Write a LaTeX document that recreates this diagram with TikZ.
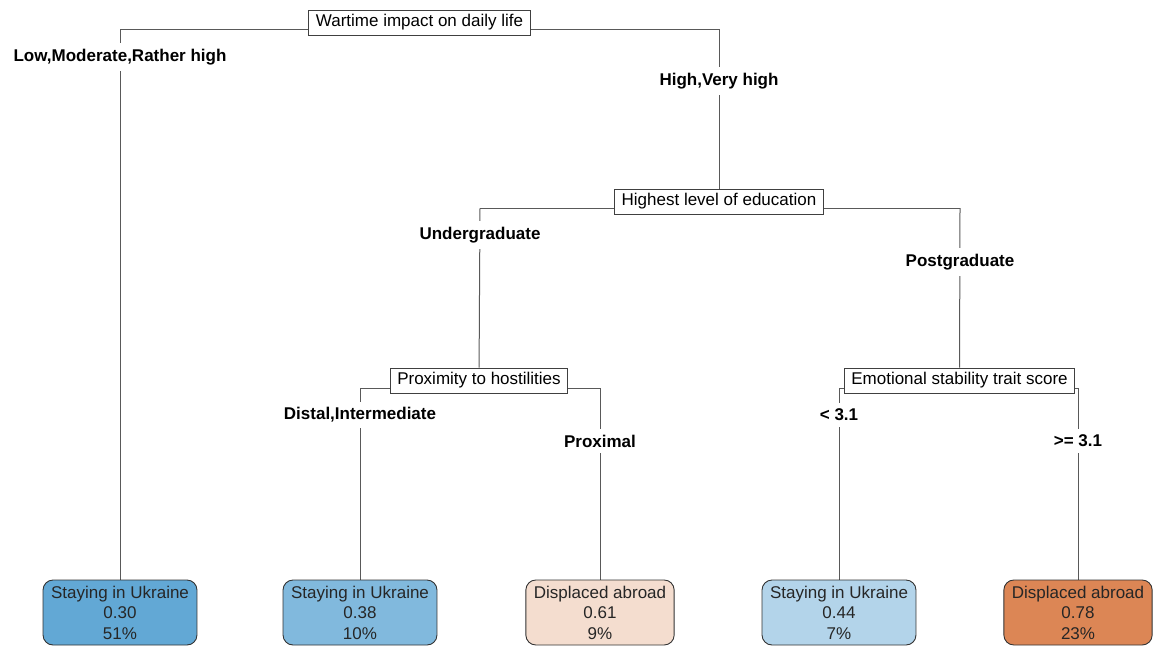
\documentclass[tikz,border=0pt]{standalone}
\usepackage{fontspec}
\setmainfont{Liberation Sans}
\usepackage{xcolor}
\usepackage{tikz}
\usetikzlibrary{backgrounds}

\definecolor{stayA}{HTML}{62A8D5}
\definecolor{stayB}{HTML}{81B9DD}
\definecolor{stayC}{HTML}{B3D4EA}
\definecolor{awayA}{HTML}{F4DDCF}
\definecolor{awayB}{HTML}{DC8655}

\tikzset{
	split/.style={draw=black!75, fill=white, line width=0.9pt, inner sep=0pt, inner xsep=7pt,
		minimum height=25pt, font=\fontsize{17}{20}\selectfont},
	cut/.style={fill=white, inner xsep=1pt, inner ysep=6pt, font=\bfseries\fontsize{17}{20}\selectfont},
	leaf/.style={draw=black!80, rounded corners=10pt, line width=0.9pt, align=center, inner xsep=8pt,
		inner ysep=0pt, minimum height=65pt, font=\fontsize{17}{20.5}\selectfont, text=black!85},
	branch/.style={draw=black!65, line width=1pt}
}

\begin{document}
\begin{tikzpicture}[x=1pt,y=-1pt]
	\useasboundingbox (0,0) rectangle (1153,646);
	\node[split] (root) at(419.5,22.5){Wartime impact on daily life};
	\node[split] (edu) at(719,201.5){Highest level of education};
	\node[split] (prox) at(479,380.5){Proximity to hostilities};
	\node[split] (emo) at(959.5,380.5){Emotional stability trait score};
	\coordinate (root-l) at(120,29);
	\coordinate (root-r) at(719,29);
	\coordinate (edu-l) at(480,208);
	\coordinate (edu-r) at(960,208);
	\coordinate (prox-l) at(360,388);
	\coordinate (prox-r) at(600,388);
	\coordinate (emo-l) at(839,388);
	\coordinate (emo-r) at(1078,388);
	\node[leaf, fill=stayA] (leaf1) at(120,612.5){Staying in Ukraine\\0.30\\51\%};
	\node[leaf, fill=stayB] (leaf2) at(360,612.5){Staying in Ukraine\\0.38\\10\%};
	\node[leaf, fill=awayA] (leaf3) at(600,612.5){Displaced abroad\\0.61\\9\%};
	\node[leaf, fill=stayC] (leaf4) at(839,612.5){Staying in Ukraine\\0.44\\7\%};
	\node[leaf, fill=awayB] (leaf5) at(1078,612.5){Displaced abroad\\0.78\\23\%};
	\node[cut] (low) at(120,57){Low,Moderate,Rather high};
	\node[cut] (high) at(719,81){High,Very high};
	\node[cut] (under) at(480,235){Undergraduate};
	\node[cut] (post) at(960,262){Postgraduate};
	\node[cut] (distal) at(360,415){Distal,Intermediate};
	\node[cut] (proximal) at(600,441){Proximal};
	\node[cut] (lt) at(839,415){< 3.1};
	\node[cut] (ge) at(1078,441){>= 3.1};
	\begin{scope}[on background layer]
	\draw[branch] (root-l) -- (root-r);
	\draw[branch] (root-l) -- (leaf1);
	\draw[branch] (root-r) -- (edu);
	\draw[branch] (edu-l) -- (edu-r);
	\draw[branch] (edu-l) -- (prox);
	\draw[branch] (edu-r) -- (emo);
	\draw[branch] (prox-l) -- (prox-r);
	\draw[branch] (prox-l) -- (leaf2);
	\draw[branch] (prox-r) -- (leaf3);
	\draw[branch] (emo-l) -- (emo-r);
	\draw[branch] (emo-l) -- (leaf4);
	\draw[branch] (emo-r) -- (leaf5);
	\end{scope}
\end{tikzpicture}
\end{document}
